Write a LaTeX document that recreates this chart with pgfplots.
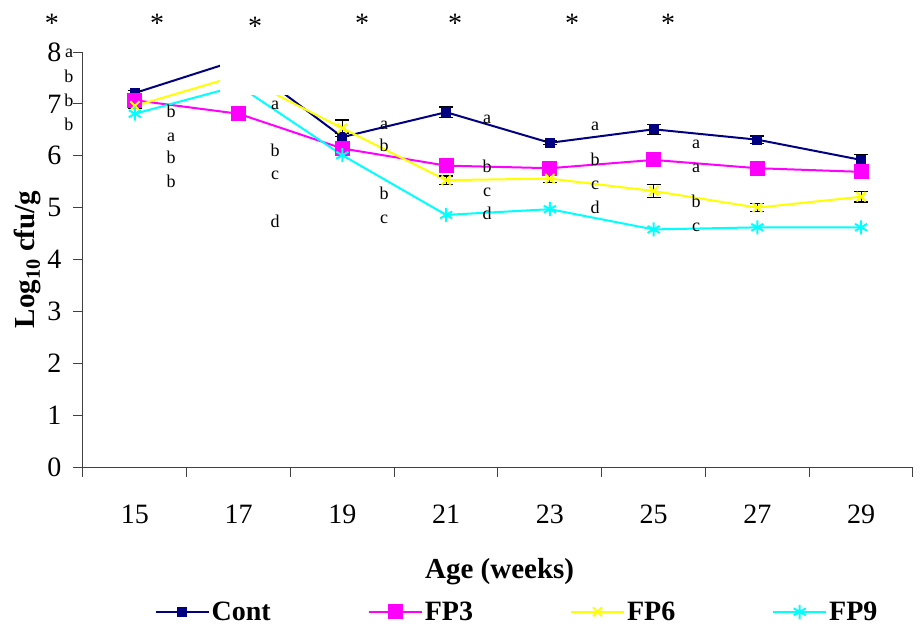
\documentclass[border=0pt]{standalone}
\usepackage{pgfplots}
\pgfplotsset{compat=1.18}
\usepackage{fontspec}
\setmainfont{Liberation Serif}
\definecolor{cnavy}{RGB}{0,0,128}
\definecolor{cmag}{RGB}{255,0,255}
\definecolor{cyel}{RGB}{255,255,0}
\definecolor{ccyan}{RGB}{0,255,255}
\newcommand{\tfont}{\fontsize{28}{28}\selectfont}
\newcommand{\lfont}{\fontsize{18}{18}\selectfont}
\newcommand{\sfont}{\fontsize{28}{28}\selectfont}
\begin{document}
\begin{tikzpicture}
\useasboundingbox (-83pt,-163pt) rectangle (839pt,467pt);
\begin{axis}[
  scale only axis, width=830pt, height=415pt,
  at={(0pt,0pt)}, anchor=south west,
  xmin=-0.5, xmax=7.5, ymin=0, ymax=8,
  axis lines=left, axis line style={-, line width=1pt, black!75},
  xtick={-0.5,0.5,1.5,2.5,3.5,4.5,5.5,6.5,7.5},
  xticklabels={15,17,19,21,23,25,27,29,{}},
  xticklabel style={xshift=51.875pt, yshift=-24pt},
  ytick={0,1,2,3,4,5,6,7,8},
  yticklabel style={xshift=-8pt},
  tick align=outside, major tick length=10pt,
  tick style={line width=1pt, black!75},
  /pgf/number format/assume math mode=true,
  tick label style={font=\tfont},
  xlabel={\bfseries Age (weeks)},
  xlabel style={font=\fontsize{29}{29}\selectfont, at={(axis description cs:0.502,-0.251)}, anchor=center},
  ylabel={\bfseries Log\textsubscript{10} cfu/g},
  ylabel style={font=\fontsize{29}{29}\selectfont, at={(axis description cs:-0.0663,0.5)}, anchor=center},
  legend columns=4,
  legend style={draw=none, fill=none, font=\bfseries\fontsize{28}{28}\selectfont,
    at={(axis description cs:0.523,-0.349)}, anchor=center,
    /tikz/every even column/.append style={column sep=95pt}},
  legend image code/.code={\draw[mark repeat=2,mark phase=2] plot coordinates {(0pt,0pt)(26.5pt,0pt)(53pt,0pt)};},
  clip=true,
]
\addplot[color=cnavy, line width=2pt, mark=square*, mark size=4pt, mark options={solid},
  error bars/.cd, y dir=both, y explicit,
  error bar style={black, line width=1.2pt},
  error mark options={black, rotate=90, mark size=7pt, line width=1.2pt}]
coordinates {
 (0,7.21) +- (0,0.05)
 (1,7.85) +- (0,0)
 (2,6.36) +- (0,0.08)
 (3,6.84) +- (0,0.10)
 (4,6.25) +- (0,0.04)
 (5,6.51) +- (0,0.10)
 (6,6.31) +- (0,0.07)
 (7,5.92) +- (0,0.10)
};
\addlegendentry{Cont}
\addplot[color=cmag, line width=2pt, mark=square*, mark size=6.5pt, mark options={solid},
  error bars/.cd, y dir=both, y explicit,
  error bar style={black, line width=1.2pt},
  error mark options={black, rotate=90, mark size=7pt, line width=1.2pt}]
coordinates {
 (0,7.07) +- (0,0.04)
 (1,6.81) +- (0,0.10)
 (2,6.14) +- (0,0.05)
 (3,5.81) +- (0,0.05)
 (4,5.76) +- (0,0.05)
 (5,5.92) +- (0,0.12)
 (6,5.76) +- (0,0.05)
 (7,5.69) +- (0,0.12)
};
\addlegendentry{FP3}
\addplot[color=cyel, line width=2pt, mark=x, mark size=6.5pt, mark options={solid, line width=2pt},
  error bars/.cd, y dir=both, y explicit,
  error bar style={black, line width=1.2pt},
  error mark options={black, rotate=90, mark size=7pt, line width=1.2pt}]
coordinates {
 (0,6.96) +- (0,0.05)
 (1,7.55) +- (0,0)
 (2,6.53) +- (0,0.16)
 (3,5.53) +- (0,0.08)
 (4,5.56) +- (0,0.08)
 (5,5.32) +- (0,0.12)
 (6,5.00) +- (0,0.08)
 (7,5.21) +- (0,0.10)
};
\addlegendentry{FP6}
\addplot[color=ccyan, line width=2pt, mark=asterisk, mark size=7pt, mark options={solid, line width=2pt}]
coordinates {
 (0,6.81) (1,7.35) (2,6.01) (3,4.86) (4,4.97) (5,4.58) (6,4.62) (7,4.62)
};
\addlegendentry{FP9}
\end{axis}
% white text box hiding part of the lines near week 17
\fill[white] (137pt,372pt) rectangle (217pt,420pt);
% significance letters
\begin{scope}[every node/.style={font=\lfont, inner sep=0pt, anchor=base}]
\node at (-14pt,409pt) {a}; \node at (-14pt,384pt) {b}; \node at (-14pt,360pt) {b}; \node at (-14pt,336pt) {b};
\node at (88pt,349pt) {b}; \node at (88pt,325pt) {a}; \node at (88pt,303pt) {b}; \node at (88pt,279pt) {b};
\node at (192pt,357pt) {a}; \node at (192pt,310pt) {b}; \node at (192pt,287pt) {c}; \node at (192pt,239pt) {d};
\node at (301pt,337pt) {a}; \node at (301pt,315pt) {b}; \node at (301pt,267pt) {b}; \node at (301pt,243pt) {c};
\node at (404pt,343pt) {a}; \node at (404pt,294pt) {b}; \node at (404pt,270pt) {c}; \node at (404pt,247pt) {d};
\node at (512pt,336pt) {a}; \node at (512pt,301pt) {b}; \node at (512pt,277pt) {c}; \node at (512pt,253pt) {d};
\node at (613pt,318pt) {a}; \node at (613pt,294pt) {a}; \node at (613pt,259pt) {b}; \node at (613pt,235pt) {c};
\end{scope}
% significance stars
\begin{scope}[every node/.style={font=\sfont, inner sep=0pt, anchor=base}]
\node at (-31pt,434pt) {*}; \node at (74pt,434pt) {*}; \node at (172pt,431pt) {*};
\node at (279pt,434pt) {*}; \node at (372pt,434pt) {*}; \node at (489pt,434pt) {*}; \node at (585pt,434pt) {*};
\end{scope}
\end{tikzpicture}
\end{document}
